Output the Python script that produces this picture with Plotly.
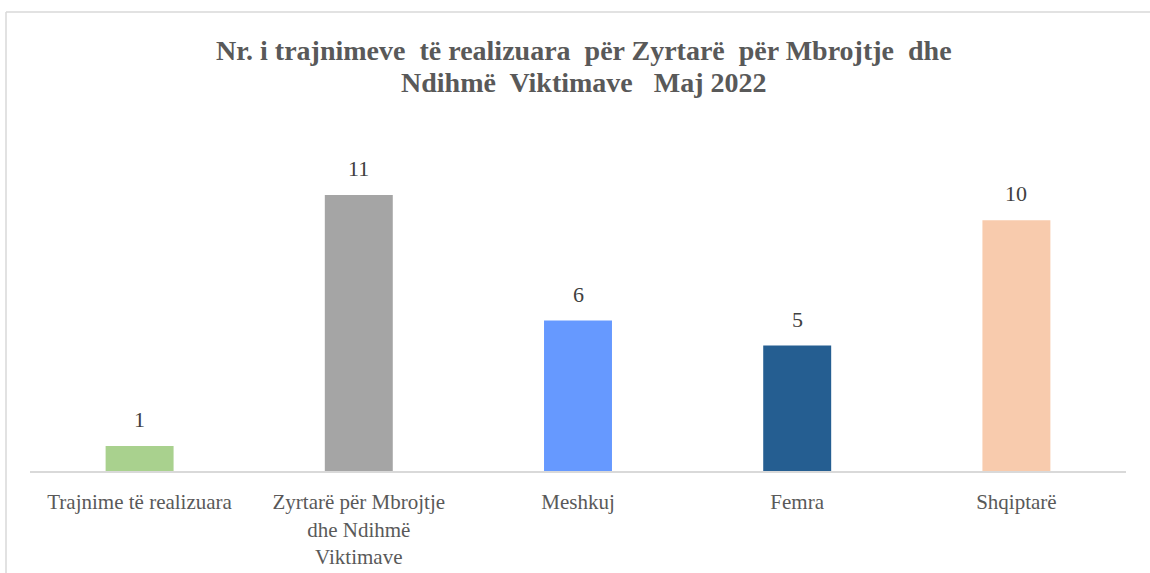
import plotly.graph_objects as go

categories = ["Trajnime të realizuara", "Zyrtarë për Mbrojtje<br>dhe Ndihmë<br>Viktimave", "Meshkuj", "Femra", "Shqiptarë"]
values = [1, 11, 6, 5, 10]
colors = ["#a9d18e", "#a5a5a5", "#6699ff", "#255e91", "#f8cbad"]
title_lines = ["Nr. i trajnimeve  të realizuara  për Zyrtarë  për Mbrojtje  dhe",
               "Ndihmë  Viktimave   Maj 2022"]

FONT = "Times New Roman, Liberation Serif, DejaVu Serif, serif"

W, H = 1150, 573
ml, mr, mt, mb = 30, 24, 170, 102
pw = W - ml - mr
ph = H - mt - mb


def py(pix):
    return (H - mb - pix) / ph


def px(pix):
    return (pix - ml) / pw


fig = go.Figure()
fig.add_trace(go.Bar(
    x=categories, y=values, marker=dict(color=colors, line=dict(width=0)),
    width=0.31, showlegend=False, hoverinfo="skip",
))

for c, v in zip(categories, values):
    fig.add_annotation(x=c, y=v, text=str(v), showarrow=False, yanchor="bottom",
                       yshift=12, font=dict(family=FONT, size=22, color="#404040"))

for line, cy in zip(title_lines, [50, 82]):
    fig.add_annotation(xref="paper", yref="paper", x=px(584), y=py(cy), text=line,
                       showarrow=False, xanchor="center", yanchor="middle",
                       font=dict(family=FONT, size=28, color="#595959", weight="bold"))

# outer chart border (top and left edges)
bx = px(6)
by = py(12)
fig.add_shape(type="line", xref="paper", yref="paper", x0=bx, x1=1.05, y0=by, y1=by,
              line=dict(color="#d9d9d9", width=1.5))
fig.add_shape(type="line", xref="paper", yref="paper", x0=bx, x1=bx, y0=by, y1=-0.5,
              line=dict(color="#d9d9d9", width=1.5))

fig.update_layout(
    width=W, height=H,
    margin=dict(l=ml, r=mr, t=mt, b=mb, autoexpand=False),
    paper_bgcolor="white", plot_bgcolor="white",
    bargap=0.69,
    xaxis=dict(showline=True, linecolor="#d9d9d9", linewidth=2, showgrid=False, automargin=False,
               ticks="outside", ticklen=11, tickcolor="rgba(0,0,0,0)",
               tickfont=dict(family=FONT, size=21, color="#595959")),
    yaxis=dict(range=[0, 12], visible=False, showgrid=False, zeroline=False),
)

fig.write_html("out.html", config={"displayModeBar": False},
               post_script="document.body.style.margin='0';document.body.style.overflow='hidden';")
